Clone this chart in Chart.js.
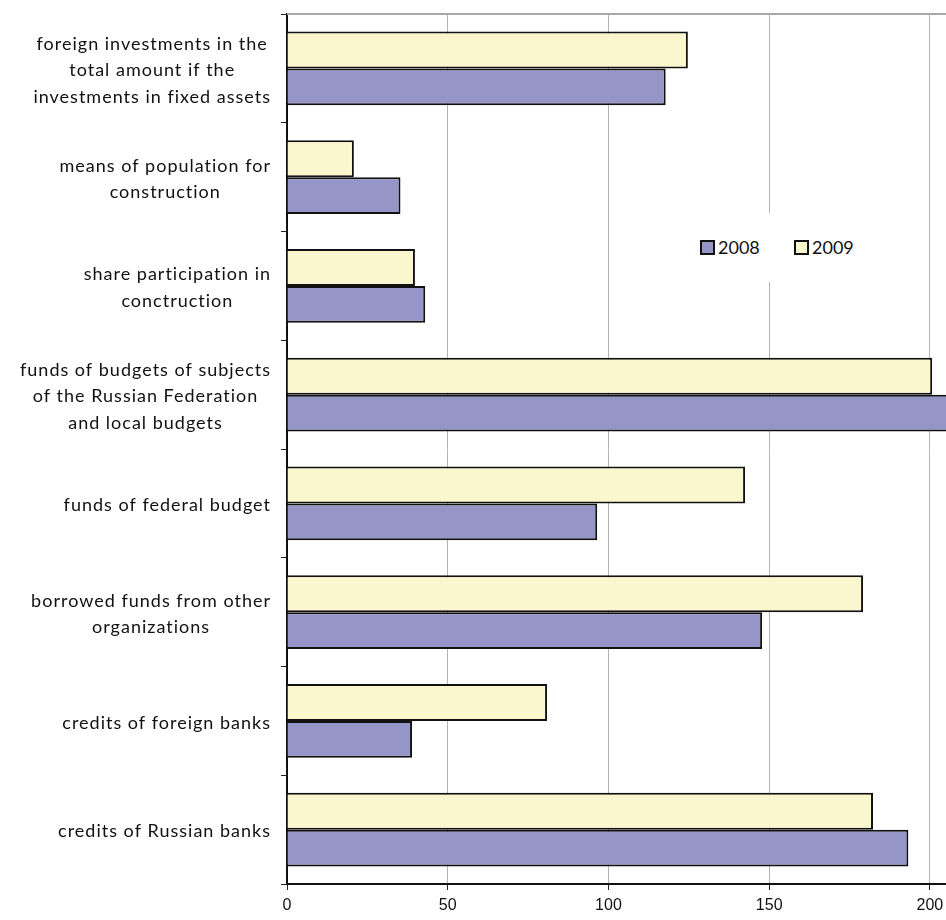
<!DOCTYPE html>
<html>
<head>
<meta charset="utf-8">
<script src="https://cdn.jsdelivr.net/npm/chart.js"></script>
<style>
  html, body { margin: 0; padding: 0; background: #fff; }
  #wrap { position: relative; width: 946px; height: 920px; overflow: hidden; }
  #chart { position: absolute; left: 0; top: 0; }
  #legend {
    position: absolute; left: 690px; top: 213px; width: 178px; height: 69px;
    background: #fff; font-family: Lato, sans-serif; font-size: 18px; color: #111;
  }
  .item { position: absolute; top: 23px; height: 22px; line-height: 22px; white-space: nowrap; }
  .sw { display: inline-block; width: 11px; height: 11px; border: 2px solid #111; vertical-align: -1px; margin-right: 3px; }
</style>
</head>
<body>
<div id="wrap">
  <canvas id="chart" width="1110" height="920"></canvas>
  <div id="legend">
    <div class="item" style="left:10px"><span class="sw" style="background:#9595c8"></span>2008</div>
    <div class="item" style="left:104px"><span class="sw" style="background:#faf7ce"></span>2009</div>
  </div>
</div>
<script>
const categories = [
  ['foreign investments in the', 'total amount if the', 'investments in fixed assets'],
  ['means of population for', 'construction'],
  ['share participation in', 'conctruction'],
  ['funds of budgets of subjects', 'of the Russian Federation', 'and local budgets'],
  ['funds of federal budget'],
  ['borrowed funds from other', 'organizations'],
  ['credits of foreign banks'],
  ['credits of Russian banks']
];
const values2008 = [117.8, 35.3, 43.0, 212, 96.5, 147.8, 38.9, 193.3];
const values2009 = [124.7, 20.8, 39.8, 200.7, 142.5, 179.2, 80.9, 182.3];
const xTicks = [0, 50, 100, 150, 200, 250];

const labelFont = '18px Lato, sans-serif';

// draws the wrapped category labels, each block centred and right-aligned to the axis
const categoryLabels = {
  id: 'categoryLabels',
  afterDraw(chart) {
    const ctx = chart.ctx;
    const y = chart.scales.y;
    ctx.save();
    ctx.font = labelFont;
    ctx.letterSpacing = '1px';
    ctx.fillStyle = '#111';
    ctx.textAlign = 'center';
    ctx.textBaseline = 'middle';
    const lineH = 26.5;
    categories.forEach((lines, i) => {
      const maxW = Math.max(...lines.map(l => ctx.measureText(l).width));
      const cx = 271 - maxW / 2;
      const cy = y.getPixelForValue(i) + 2;
      lines.forEach((l, j) => {
        ctx.fillText(l, cx, cy + (j - (lines.length - 1) / 2) * lineH);
      });
    });
    ctx.restore();
  }
};

// grey frame line along the top of the plot area
const topLine = {
  id: 'topLine',
  beforeDatasetsDraw(chart) {
    const a = chart.chartArea;
    const ctx = chart.ctx;
    ctx.save();
    ctx.strokeStyle = '#a8a8a8';
    ctx.lineWidth = 2;
    ctx.beginPath();
    ctx.moveTo(a.left, a.top);
    ctx.lineTo(a.right, a.top);
    ctx.stroke();
    ctx.restore();
  }
};

new Chart(document.getElementById('chart'), {
  type: 'bar',
  data: {
    labels: categories.map(c => c.join(' ')),
    datasets: [
      { label: '2009', data: values2009, backgroundColor: '#faf7ce', borderColor: '#111', borderWidth: 2 },
      { label: '2008', data: values2008, backgroundColor: '#9595c8', borderColor: '#111', borderWidth: 2 }
    ]
  },
  options: {
    indexAxis: 'y',
    responsive: false,
    animation: false,
    devicePixelRatio: 1,
    categoryPercentage: 0.68,
    barPercentage: 1.0,
    layout: { padding: { top: 14, left: 0, right: 19, bottom: 0 } },
    plugins: { legend: { display: false }, tooltip: { enabled: false } },
    scales: {
      x: {
        min: 0, max: 250,
        afterBuildTicks: s => { s.ticks = xTicks.map(v => ({ value: v })); },
        afterFit: s => { s.height = 36; },
        grid: { color: '#b4b4b4', lineWidth: 1, tickColor: '#222', tickLength: 6 },
        border: { color: '#111', width: 2 },
        ticks: { color: '#111', padding: 6, font: { family: 'Liberation Sans, Arial', size: 16 }, maxRotation: 0 }
      },
      y: {
        afterFit: s => { s.width = 287; },
        grid: { drawOnChartArea: false, offset: true, tickLength: 6, color: '#222' },
        border: { color: '#111', width: 2 },
        ticks: { display: false }
      }
    }
  },
  plugins: [topLine, categoryLabels]
});
</script>
</body>
</html>
